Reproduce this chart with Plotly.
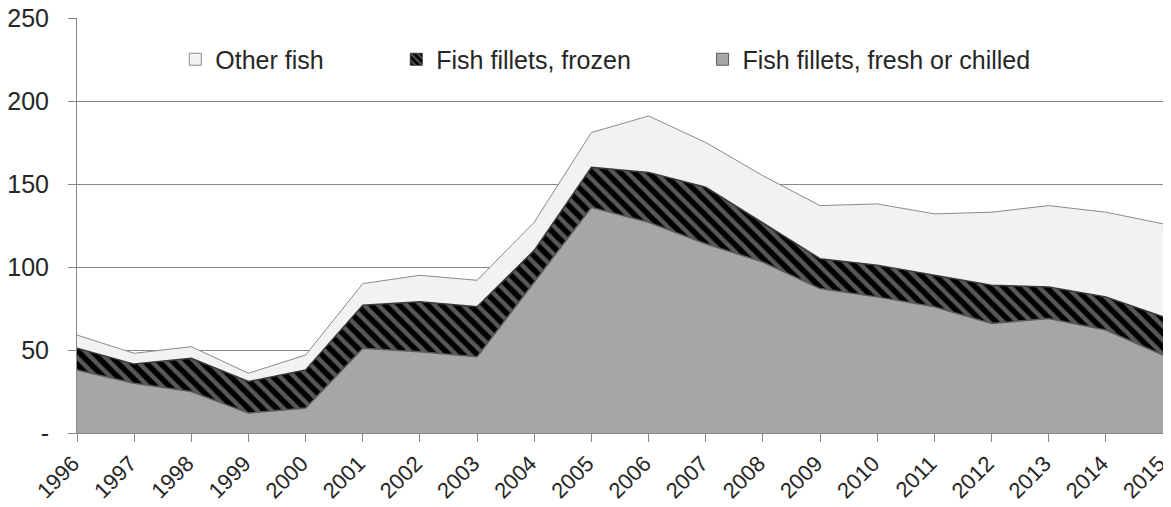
import plotly.graph_objects as go

years = list(range(1996, 2016))

# values (stacked components)
fresh_chilled = [38, 30, 25, 12, 15, 51, 49, 46, 91, 136, 127, 114, 103, 87, 82, 76, 66, 69, 62, 47]
fillets_frozen = [13, 11.5, 20, 19, 23, 26, 30, 30, 19, 24, 30, 34, 23.5, 18, 19, 19, 23, 19, 20, 23]
other_fish = [8, 6.5, 7, 5, 9, 13, 16, 16, 17, 21, 34, 27, 28.5, 32, 37, 37, 44, 49, 51, 56]

y_ticks = [0, 50, 100, 150, 200, 250]
y_tick_text = ["-", "50", "100", "150", "200", "250"]

stripes = dict(shape="\\", bgcolor="black", fgcolor="#b0b0b0", size=10, solidity=0.45)

fig = go.Figure()

fig.add_trace(go.Scatter(
    x=years, y=fresh_chilled, name="Fish fillets, fresh or chilled",
    mode="lines", stackgroup="one", showlegend=False,
    line=dict(color="#5a5a5a", width=1.5),
    fillcolor="#a6a6a6",
))
fig.add_trace(go.Scatter(
    x=years, y=fillets_frozen, name="Fish fillets, frozen",
    mode="lines", stackgroup="one", showlegend=False,
    line=dict(color="#3a3a3a", width=1.5),
    fillcolor="black",
    fillpattern=stripes,
))
fig.add_trace(go.Scatter(
    x=years, y=other_fish, name="Other fish",
    mode="lines", stackgroup="one", showlegend=False,
    line=dict(color="#8a8a8a", width=1),
    fillcolor="#f2f2f2",
))

# legend-only entries so the keys are small squares like the original
fig.add_trace(go.Bar(x=[None], y=[None], name="Other fish", legend="legend",
                     marker=dict(color="#f2f2f2", line=dict(color="#8a8a8a", width=1))))
fig.add_trace(go.Bar(x=[None], y=[None], name="Fish fillets, frozen", legend="legend2",
                     marker=dict(color="black", line=dict(color="#3a3a3a", width=1),
                                 pattern=dict(shape="\\", bgcolor="black", fgcolor="#b0b0b0",
                                              size=6, solidity=0.4))))
fig.add_trace(go.Bar(x=[None], y=[None], name="Fish fillets, fresh or chilled", legend="legend3",
                     marker=dict(color="#a6a6a6", line=dict(color="#5a5a5a", width=1))))

leg = dict(orientation="h", xanchor="left", y=0.90, yanchor="middle",
           bgcolor="rgba(0,0,0,0)", font=dict(size=25), itemwidth=30)

# page body has an 8px margin, so the figure is sized to fit the window
fig.update_layout(
    width=1163, height=499,
    margin=dict(l=69, r=8, t=10, b=74),
    paper_bgcolor="white", plot_bgcolor="white",
    font=dict(family="Liberation Sans, Arial, sans-serif", size=25, color="#262626"),
    showlegend=True,
    legend=dict(leg, x=0.0905),
    legend2=dict(leg, x=0.294),
    legend3=dict(leg, x=0.576),
    xaxis=dict(
        range=[1996, 2015], tickmode="array", tickvals=years,
        ticktext=[str(y) for y in years], tickangle=-45, tickfont=dict(size=22),
        ticklabelshift=-4,
        showgrid=False, showline=True, linecolor="#878787", linewidth=1,
        ticks="outside", ticklen=8, tickcolor="#878787", zeroline=False,
        automargin=False, ticklabeloverflow="allow",
    ),
    yaxis=dict(
        range=[0, 250], tickmode="array", tickvals=y_ticks, ticktext=y_tick_text,
        ticklabelstandoff=14,
        showgrid=True, gridcolor="#878787", gridwidth=1,
        showline=True, linecolor="#878787", linewidth=1,
        ticks="outside", ticklen=8, tickcolor="#878787", zeroline=False,
        automargin=False, ticklabeloverflow="allow",
    ),
)

fig.write_html("out.html")
